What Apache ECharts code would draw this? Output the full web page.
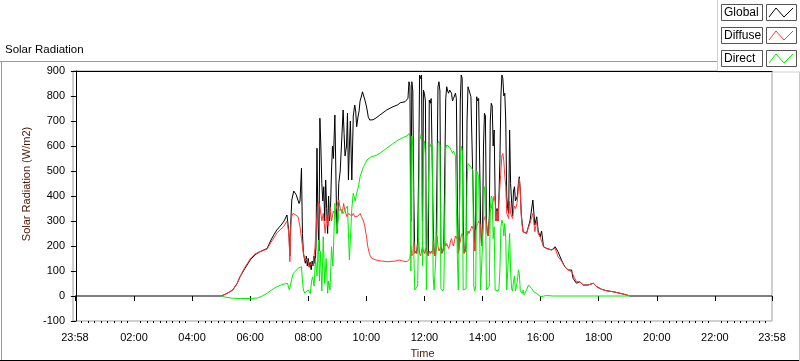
<!DOCTYPE html>
<html><head><meta charset="utf-8">
<script src="https://cdn.jsdelivr.net/npm/echarts@6/dist/echarts.min.js"></script>
<style>html,body{margin:0;padding:0;background:#fff;}#c{width:800px;height:361px;}</style>
</head><body><div id="c"></div>
<script>
// ---- data (x = minutes since midnight; 23:58 of the previous day = -2) ----
const xTickMinutes = [-2,120,240,360,480,600,720,840,960,1080,1200,1320,1438];
const xTickLabels = ['23:58','02:00','04:00','06:00','08:00','10:00','12:00','14:00','16:00','18:00','20:00','22:00','23:58'];

const globalMin = [-2,300,310,324,333,339,349,360,370,380,389,395,403,409,415,424,430,436,438,440,442,444,446,450,453,455,457,461,463,466,468,470,472,474,476,478,480,482,484,486,488,490,492,494,496,498,500,502,504,506,508,510,512,514,516,518,520,522,524,526,528,530,532,535,537,539,541,543,546,549,552,554,556,559,561,563,565,567,570,573,576,578,580,583,585,587,590,592,594,597,600,602,604,607,611,614,620,628,642,655,665,670,680,684,
  686,688,690,692,694,696,698,700,702,704,706,708,710,712,714,716,718,720,722,724,726,728,730,732,734,736,738,740,742,744,746,748,750,752,754,756,758,760,762,764,766,768,770,772,774,776,778,780,782,784,786,788,790,792,794,796,798,800,802,804,806,808,810,812,814,816,818,820,822,824,826,828,830,832,834,836,838,840,842,844,846,848,850,852,854,856,858,860,862,864,866,868,870,872,874,876,878,880,882,884,886,888,890,892,894,896,898,900,902,904,906,908,910,912,914,916,918,920,922,924,
  931,938,944,948,952,955,959,962,966,972,983,990,996,1003,1010,1017,1024,1027,1034,1041,1048,1058,1069,1076,1086,1096,1110,1124,1138,1145,1438];
const globalVal = [0,0,8,24,50,77,110,144,165,177,185,190,224,245,264,284,300,324,330,255,160,300,384,420,424,405,412,370,380,511,250,171,150,131,160,120,150,115,135,105,140,120,160,130,200,591,300,180,711,600,450,380,437,300,464,350,250,400,300,350,500,600,550,724,500,251,300,450,500,620,744,650,560,600,731,464,600,700,464,720,764,740,677,720,740,780,800,817,810,784,760,740,715,704,700,705,712,724,744,757,765,773,777,771,
  791,857,840,300,857,820,400,171,180,171,
  220,500,884,870,884,300,824,810,780,171,
  180,160,784,771,790,784,300,171,160,190,
  500,837,857,820,200,171,180,200,500,790,
  837,820,811,824,830,811,780,790,800,811,
  790,400,171,200,780,884,870,300,171,180,
  200,700,837,830,811,797,797,790,300,180,
  300,797,780,790,790,300,200,250,600,731,
  720,300,250,240,320,700,771,760,600,664,
  400,300,350,300,400,550,800,884,870,800,
  811,700,400,350,330,664,450,380,320,420,
  437,380,384,400,450,477,420,330,290,257,
  251,300,384,284,317,260,237,260,197,191,184,197,177,144,117,104,104,71,51,57,44,44,51,37,27,21,17,11,4,0,0];

const diffuseMin = [300,310,324,333,339,349,360,370,380,389,395,403,409,415,424,430,436,438,440,442,444,446,449,453,459,463,466,470,474,478,482,486,490,494,497,501,504,508,511,515,518,521,525,528,532,535,539,543,546,550,553,556,560,563,566,570,573,576,580,583,587,590,594,597,600,603,607,611,614,620,630,645,660,668,671,675,684,
  686,688,690,692,694,696,698,700,702,704,706,708,710,712,714,716,718,720,722,724,726,728,730,732,734,736,738,740,742,744,746,748,750,752,754,756,758,760,762,764,766,768,770,772,774,776,778,780,782,784,786,788,790,792,794,796,798,800,802,804,806,808,810,812,814,816,818,820,822,824,826,828,830,832,834,836,838,840,842,844,846,848,850,852,854,856,858,860,862,864,866,868,870,872,874,876,878,880,882,884,886,888,890,892,894,896,898,900,902,904,906,908,910,912,914,916,918,920,922,924,
  931,938,944,948,952,955,959,962,966,972,983,990,996,1003,1010,1017,1024,1034,1041,1048,1058,1069,1076,1086,1096,1110,1124,1138,1145];
const diffuseVal = [0,8,24,50,77,115,148,168,178,183,188,215,232,252,268,280,300,305,250,137,280,320,331,325,317,277,230,171,140,150,117,130,120,197,300,377,360,300,330,251,320,280,357,300,340,330,360,384,350,330,370,340,317,330,337,320,330,317,325,320,330,317,300,277,240,197,165,151,148,144,140,137,140,144,151,140,137,
  140,145,150,200,160,170,220,171,180,171,
  200,230,170,160,180,200,180,170,190,171,
  180,160,180,170,180,170,220,171,160,190,
  240,200,180,190,200,171,180,200,220,200,
  210,200,190,200,220,230,210,200,220,240,
  230,240,171,200,220,240,250,240,171,180,
  200,240,260,250,260,270,280,270,260,180,
  260,280,290,300,300,280,200,250,300,310,
  320,290,250,240,300,340,350,370,380,400,
  380,300,340,300,380,440,500,560,570,540,
  480,440,330,320,310,380,330,320,310,340,
  360,350,360,380,430,470,420,320,280,255,
  252,291,330,257,300,250,237,245,197,190,184,191,157,140,117,104,97,57,57,44,44,51,37,27,21,17,11,4,0];

const directMin = [300,310,324,340,360,375,385,395,405,415,425,437,441,445,449,454,459,466,468,470,473,477,480,484,487,489,492,495,498,501,503,505,508,511,514,517,520,522,525,528,531,535,539,543,547,552,556,561,565,570,573,577,580,584,587,591,594,598,601,605,610,614,620,628,642,656,666,676,684,
  686,688,690,692,694,696,698,700,702,704,706,708,710,712,714,716,718,720,722,724,726,728,730,732,734,736,738,740,742,744,746,748,750,752,754,756,758,760,762,764,766,768,770,772,774,776,778,780,782,784,786,788,790,792,794,796,798,800,802,804,806,808,810,812,814,816,818,820,822,824,826,828,830,832,834,836,838,840,842,844,846,848,850,852,854,856,858,860,862,864,866,868,870,872,874,876,878,880,882,884,886,888,890,892,894,896,898,900,902,904,906,908,910,912,914,916,918,920,922,924,
  926,931,935,938,941,946,952,960,972,985,1145];
const directVal = [0,-5,-9,-10,-10,-8,0,11,25,37,45,51,24,60,91,100,111,117,60,24,11,15,24,10,60,77,40,150,80,224,60,180,20,237,50,150,11,60,24,197,120,371,250,340,350,330,345,360,144,350,411,380,411,440,477,500,517,530,544,550,557,560,562,571,591,611,624,634,640,
  645,650,640,100,640,600,180,24,20,24,
  40,300,650,630,640,120,600,620,560,24,
  20,24,590,600,610,600,80,24,20,30,
  250,611,620,600,30,24,20,30,280,590,
  604,600,600,595,590,580,571,580,571,560,
  557,160,24,24,544,600,580,24,24,20,
  30,450,530,531,520,525,517,504,40,20,
  40,500,490,477,470,24,20,24,300,437,
  420,24,20,24,40,350,400,390,230,277,
  24,20,24,20,30,110,277,304,290,240,
  290,230,24,24,20,250,100,30,20,60,
  80,20,24,60,104,90,20,24,10,24,
  5,24,44,37,31,17,10,-3,2,0,0];

// ---- chart ----
const FONT = 'Liberation Sans';
const minorTicks = [];
for (let i = 0; i < xTickMinutes.length - 1; i++) {
  const a = xTickMinutes[i], b = xTickMinutes[i + 1];
  for (let k = 1; k < 9; k++) minorTicks.push(a + (b - a) * k / 9);
}
const labelMap = {};
xTickMinutes.forEach((m, i) => labelMap[m] = xTickLabels[i]);
const pairs = (xs, ys) => xs.map((x, i) => [x, ys[i]]);

const chart = echarts.init(document.getElementById('c'), null, {renderer: 'canvas'});
const legendRows = [
  {name: 'Global', color: '#000000', y: 4},
  {name: 'Diffuse', color: '#ff3838', y: 27},
  {name: 'Direct', color: '#00ee00', y: 50}
];
const graphics = [
  {type: 'line', shape: {x1: 0, y1: 61.5, x2: 718, y2: 61.5}, style: {stroke: '#9a9a9a', lineWidth: 1}, silent: true},
  {type: 'line', shape: {x1: 1.5, y1: 61, x2: 1.5, y2: 361}, style: {stroke: '#9a9a9a', lineWidth: 1}, silent: true},
  {type: 'line', shape: {x1: 0, y1: 360.5, x2: 800, y2: 360.5}, style: {stroke: '#000', lineWidth: 1}, silent: true},
  {type: 'line', shape: {x1: 799.5, y1: 0, x2: 799.5, y2: 361}, style: {stroke: '#c8c8c8', lineWidth: 1}, silent: true},
  {type: 'rect', shape: {x: 717.5, y: -1, width: 83, height: 73}, style: {fill: '#fff', stroke: '#d0d0d0', lineWidth: 1}, silent: true},
  {type: 'text', left: 5, top: 44, style: {text: 'Solar Radiation', font: '11.5px ' + FONT, fill: '#000'}, silent: true}
];
legendRows.forEach(r => {
  graphics.push({type: 'rect', shape: {x: 721.5, y: r.y + 0.5, width: 41, height: 16}, style: {fill: '#fff', stroke: '#555', lineWidth: 1}, silent: true});
  graphics.push({type: 'text', x: 724, y: r.y + 9, style: {text: r.name, font: '12px ' + FONT, fill: '#000', verticalAlign: 'middle'}, silent: true});
  graphics.push({type: 'rect', shape: {x: 766.5, y: r.y + 0.5, width: 30, height: 16}, style: {fill: '#fff', stroke: '#555', lineWidth: 1}, silent: true});
  graphics.push({type: 'polyline', shape: {points: [[769, r.y + 13], [776, r.y + 4], [784, r.y + 13], [793, r.y + 4]]}, style: {stroke: r.color, lineWidth: 1, fill: null}, silent: true});
});

chart.setOption({
  animation: false,
  backgroundColor: '#fff',
  textStyle: {fontFamily: FONT},
  grid: {left: 73, right: 28, top: 71, bottom: 40, outerBoundsMode: 'none', containLabel: false, show: true, borderColor: '#a0a0a0', borderWidth: 1, backgroundColor: '#fff'},
  xAxis: [
    {type: 'value', min: -6, max: 1438, position: 'bottom', offset: 0,
     axisLine: {show: false},
     axisTick: {show: true, customValues: xTickMinutes, length: 5, inside: false, lineStyle: {color: '#000', width: 1}},
     axisLabel: {customValues: xTickMinutes, formatter: v => labelMap[v] || '', fontSize: 11, color: '#000', margin: 11, fontFamily: FONT},
     splitLine: {show: false},
     name: 'Time', nameLocation: 'middle', nameGap: 27, nameTextStyle: {color: '#4a1a08', fontSize: 11, fontFamily: FONT}},
    {type: 'value', min: -6, max: 1438, position: 'bottom', offset: 0,
     axisLine: {show: false},
     axisTick: {show: true, customValues: minorTicks, length: 2, lineStyle: {color: '#000', width: 1}},
     axisLabel: {show: false}, splitLine: {show: false}},
    {type: 'value', min: -6, max: 1438, position: 'top', offset: 0,
     axisLine: {show: true, lineStyle: {color: '#000', width: 1}},
     axisTick: {show: false}, axisLabel: {show: false}, splitLine: {show: false}}
  ],
  yAxis: {
    type: 'value', min: -100, max: 900, interval: 100,
    axisLine: {show: true, lineStyle: {color: '#000', width: 1}},
    axisTick: {show: true, length: 5, lineStyle: {color: '#000'}},
    axisLabel: {fontSize: 11, color: '#000', margin: 8, fontFamily: FONT},
    splitLine: {show: false},
    name: 'Solar Radiation (W/m2)', nameLocation: 'middle', nameGap: 36,
    nameTextStyle: {color: '#4a1a08', fontSize: 11, fontFamily: FONT, padding: [0, 0, 0, 24]}
  },
  series: [
    {name: 'Global', type: 'line', data: pairs(globalMin, globalVal), showSymbol: false, symbol: 'none', lineStyle: {color: '#000', width: 1}, itemStyle: {color: '#000'}, z: 2},
    {name: 'Diffuse', type: 'line', data: pairs(diffuseMin, diffuseVal), showSymbol: false, symbol: 'none', lineStyle: {color: '#ff3838', width: 1}, itemStyle: {color: '#ff3838'}, z: 3},
    {name: 'Direct', type: 'line', data: pairs(directMin, directVal), showSymbol: false, symbol: 'none', lineStyle: {color: '#00ee00', width: 1}, itemStyle: {color: '#00ee00'}, z: 4}
  ],
  graphic: graphics
});
</script></body></html>
